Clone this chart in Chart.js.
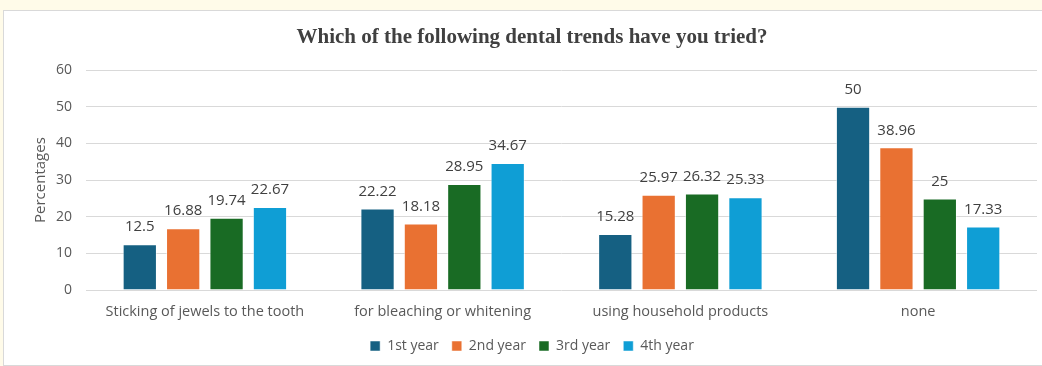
<!DOCTYPE html>
<html>
<head>
<meta charset="utf-8">
<script src="https://cdn.jsdelivr.net/npm/chart.js@4"></script>
<style>
  html, body { margin: 0; padding: 0; background: #fffbe9; width: 1042px; height: 366px; overflow: hidden; }
  #frame { position: absolute; left: 3px; top: 10px; width: 1056px; height: 354px; background: #ffffff; border: 1px solid #d9d9d9; }
  canvas { display: block; }
</style>
</head>
<body>
<div id="frame"><canvas id="c" width="1056" height="354"></canvas></div>
<script>
const categories = ["Sticking of jewels to the tooth", "for bleaching or whitening", "using household products", "none"];
const seriesNames = ["1st year", "2nd year", "3rd year", "4th year"];
const firstYear  = [12.5, 22.22, 15.28, 50];
const secondYear = [16.88, 18.18, 25.97, 38.96];
const thirdYear  = [19.74, 28.95, 26.32, 25];
const fourthYear = [22.67, 34.67, 25.33, 17.33];
const yTicks = [0, 10, 20, 30, 40, 50, 60];

const colors = ["#156082", "#e97132", "#196b24", "#0f9ed5"];
const values = [firstYear, secondYear, thirdYear, fourthYear];
const sans = "'Open Sans', 'Liberation Sans', Arial, sans-serif";

// Value labels drawn above each bar
const valueLabels = {
  id: "valueLabels",
  afterDatasetsDraw(chart) {
    const ctx = chart.ctx;
    ctx.save();
    ctx.font = "15px " + sans;
    ctx.fillStyle = "#404040";
    ctx.textAlign = "center";
    ctx.textBaseline = "middle";
    chart.data.datasets.forEach((ds, i) => {
      chart.getDatasetMeta(i).data.forEach((bar, j) => {
        ctx.fillText(String(ds.data[j]), bar.x, bar.y - 17);
      });
    });
    ctx.restore();
  }
};

new Chart(document.getElementById("c"), {
  type: "bar",
  data: {
    labels: categories,
    datasets: seriesNames.map((name, i) => ({
      label: name,
      data: values[i],
      backgroundColor: colors[i],
      borderColor: "rgba(255,255,255,0.5)",
      borderWidth: 1,
      categoryPercentage: 0.73,
      barPercentage: 0.79
    }))
  },
  options: {
    responsive: false,
    animation: false,
    layout: { padding: { left: 0, right: 0, top: 0, bottom: 2 } },
    plugins: {
      title: {
        display: true,
        text: "Which of the following dental trends have you tried?",
        color: "#404040",
        font: { family: "'Liberation Serif', 'DejaVu Serif', serif", size: 21, weight: "bold" },
        padding: { top: 14, bottom: 20 }
      },
      legend: {
        position: "bottom",
        labels: {
          color: "#595959",
          font: { family: sans, size: 14 },
          boxWidth: 10,
          boxHeight: 10,
          padding: 13
        }
      },
      tooltip: { enabled: false }
    },
    scales: {
      x: {
        grid: { display: false, drawTicks: false },
        border: { display: false },
        afterFit(axis) { axis.height = 36; },
        ticks: {
          color: "#595959",
          font: { family: sans, size: 14.5 },
          padding: 13
        }
      },
      y: {
        min: 0,
        max: 60,
        afterBuildTicks(axis) { axis.ticks = yTicks.map(v => ({ value: v })); },
        afterFit(axis) { axis.width = 82; },
        grid: { color: "#d9d9d9", drawTicks: false },
        border: { display: false },
        ticks: {
          color: "#595959",
          font: { family: sans, size: 14 },
          padding: 14
        },
        title: {
          display: true,
          text: "Percentages",
          color: "#595959",
          font: { family: sans, size: 15 },
          padding: { top: 28, bottom: 0 }
        }
      },
      // empty right-hand margin beside the plot
      gap: {
        type: "linear",
        position: "right",
        afterFit(axis) { axis.width = 23; },
        grid: { display: false, drawTicks: false },
        border: { display: false },
        ticks: { display: false }
      }
    }
  },
  plugins: [valueLabels]
});
</script>
</body>
</html>
